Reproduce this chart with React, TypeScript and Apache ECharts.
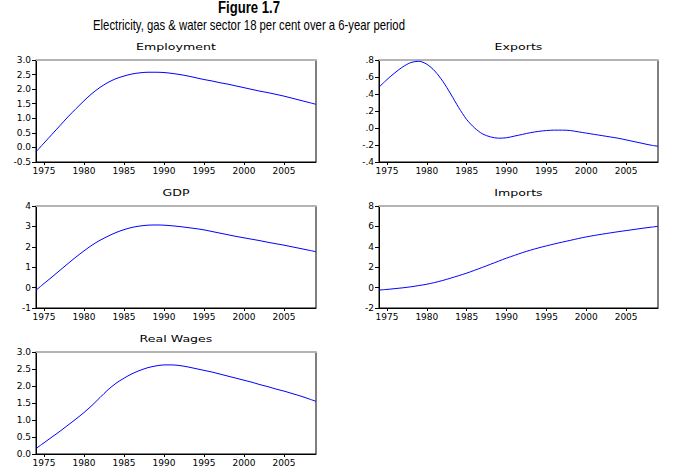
import React, { useEffect, useRef } from "react";
import * as echarts from "echarts";

const years: string[] = [];
for (let y = 1974; y <= 2009; y++) years.push(String(y));

const employment = [-0.15, 0.15, 0.45, 0.75, 1.05, 1.33, 1.6, 1.85, 2.06, 2.23, 2.36, 2.45, 2.52, 2.56, 2.58, 2.58, 2.57, 2.54, 2.5, 2.45, 2.39, 2.33, 2.28, 2.22, 2.17, 2.11, 2.05, 1.99, 1.93, 1.88, 1.82, 1.76, 1.69, 1.62, 1.55, 1.48];
const exportsData = [0.48, 0.57, 0.65, 0.72, 0.77, 0.785, 0.75, 0.67, 0.55, 0.4, 0.24, 0.1, 0.0, -0.07, -0.105, -0.12, -0.115, -0.095, -0.075, -0.055, -0.04, -0.03, -0.025, -0.025, -0.03, -0.045, -0.06, -0.075, -0.09, -0.105, -0.12, -0.14, -0.16, -0.18, -0.2, -0.215];
const gdp = [-0.13, 0.2, 0.52, 0.85, 1.18, 1.5, 1.8, 2.08, 2.32, 2.52, 2.7, 2.84, 2.95, 3.02, 3.06, 3.07, 3.06, 3.03, 2.99, 2.94, 2.89, 2.83, 2.75, 2.67, 2.59, 2.51, 2.44, 2.37, 2.3, 2.22, 2.15, 2.08, 2.0, 1.92, 1.84, 1.76];
const imports = [-0.24, -0.18, -0.1, -0.02, 0.08, 0.2, 0.33, 0.5, 0.7, 0.93, 1.17, 1.42, 1.7, 1.99, 2.29, 2.59, 2.89, 3.16, 3.43, 3.67, 3.89, 4.09, 4.28, 4.46, 4.63, 4.81, 4.97, 5.11, 5.24, 5.36, 5.48, 5.59, 5.7, 5.81, 5.91, 6.01];
const realWages = [0.16, 0.33, 0.5, 0.67, 0.85, 1.03, 1.22, 1.43, 1.66, 1.89, 2.08, 2.23, 2.36, 2.46, 2.54, 2.59, 2.62, 2.62, 2.6, 2.56, 2.51, 2.46, 2.41, 2.35, 2.29, 2.23, 2.17, 2.11, 2.04, 1.98, 1.91, 1.85, 1.78, 1.71, 1.63, 1.55];

const panelTitles = ["Employment", "Exports", "GDP", "Imports", "Real Wages"];
const panelData = [employment, exportsData, gdp, imports, realWages];
const yMin = [-0.5, -0.4, -1, -2, 0];
const yMax = [3, 0.8, 4, 8, 3];
const yStep = [0.5, 0.2, 1, 2, 0.5];

const mainTitle = "Figure 1.7";
const subTitle = "Electricity, gas & water sector 18 per cent over a 6-year period";

const grids = [
  { left: 36, top: 60, width: 280, height: 102 },
  { left: 379, top: 60, width: 279, height: 102 },
  { left: 36, top: 206, width: 280, height: 102 },
  { left: 379, top: 206, width: 279, height: 102 },
  { left: 36, top: 352, width: 280, height: 102 },
];

const fmt = (i: number) => (v: number) => {
  if (i === 1) {
    const s = (Math.round(v * 10) / 10).toFixed(1);
    return s.replace(/^(-?)0\./, "$1.");
  }
  if (i === 2 || i === 3) return String(Math.round(v));
  return (Math.round(v * 10) / 10).toFixed(1);
};

const tickFont = "'DejaVu Sans', Verdana, sans-serif";
const headFont = "'Liberation Sans', Arial, sans-serif";

export default function App() {
  const ref = useRef<HTMLDivElement>(null);
  useEffect(() => {
    if (!ref.current) return;
    const chart = echarts.init(ref.current, null, { renderer: "svg" });
    const isLabeled = (idx: number) => Number(years[idx]) % 5 === 0;
    const xAxis: any[] = [];
    const yAxis: any[] = [];
    const series: any[] = [];
    const graphics: any[] = [
      {
        type: "text",
        x: 249,
        y: 0,
        scaleX: 0.82,
        style: { text: mainTitle, textAlign: "center", textVerticalAlign: "top", fontFamily: headFont, fontSize: 16, fontWeight: "bold", fill: "#000" },
      },
      {
        type: "text",
        x: 249,
        y: 18,
        scaleX: 0.81,
        style: { text: subTitle, textAlign: "center", textVerticalAlign: "top", fontFamily: headFont, fontSize: 14, fontWeight: "normal", fill: "#000" },
      },
    ];
    grids.forEach((g, i) => {
      graphics.push({
        type: "text",
        x: g.left + g.width / 2,
        y: g.top - 13,
        scaleX: 1.4,
        style: { text: panelTitles[i], textAlign: "center", textVerticalAlign: "middle", fontFamily: tickFont, fontSize: 9, fill: "#000" },
      });
      xAxis.push({
        type: "category",
        gridIndex: i,
        data: years,
        boundaryGap: false,
        axisLine: { show: true, onZero: false, lineStyle: { color: "#000", width: 1 } },
        axisTick: { show: true, inside: false, length: 3, interval: (idx: number) => isLabeled(idx), lineStyle: { color: "#000" } },
        axisLabel: { show: true, interval: (idx: number) => isLabeled(idx), margin: 4, fontFamily: tickFont, fontSize: 9, color: "#000" },
        splitLine: { show: false },
      });
      xAxis.push({
        type: "category",
        gridIndex: i,
        position: "top",
        data: years,
        boundaryGap: false,
        axisLine: { show: true, onZero: false, lineStyle: { color: "#b4b4b4", width: 2 } },
        axisTick: { show: false },
        axisLabel: { show: false },
        splitLine: { show: false },
      });
      yAxis.push({
        type: "value",
        gridIndex: i,
        min: yMin[i],
        max: yMax[i],
        interval: yStep[i],
        axisLine: { show: true, onZero: false, lineStyle: { color: "#000", width: 1 } },
        axisTick: { show: true, inside: false, length: 4, lineStyle: { color: "#000" } },
        axisLabel: { show: true, margin: 5, fontFamily: tickFont, fontSize: 9, color: "#000", formatter: fmt(i) },
        splitLine: { show: false },
      });
      series.push({
        type: "line",
        xAxisIndex: i * 2,
        yAxisIndex: i,
        data: panelData[i],
        showSymbol: false,
        smooth: 0.3,
        lineStyle: { color: "#0000ff", width: 1 },
        itemStyle: { color: "#0000ff" },
      });
    });
    chart.setOption({
      animation: false,
      backgroundColor: "#fff",
      graphic: graphics,
      grid: grids.map((g) => ({ ...g, show: true, borderColor: "#000", borderWidth: 1, backgroundColor: "transparent", containLabel: false })),
      xAxis,
      yAxis,
      series,
    });
    return () => chart.dispose();
  }, []);
  return <div ref={ref} style={{ position: "fixed", left: 0, top: 0, width: 694, height: 472 }} />;
}
